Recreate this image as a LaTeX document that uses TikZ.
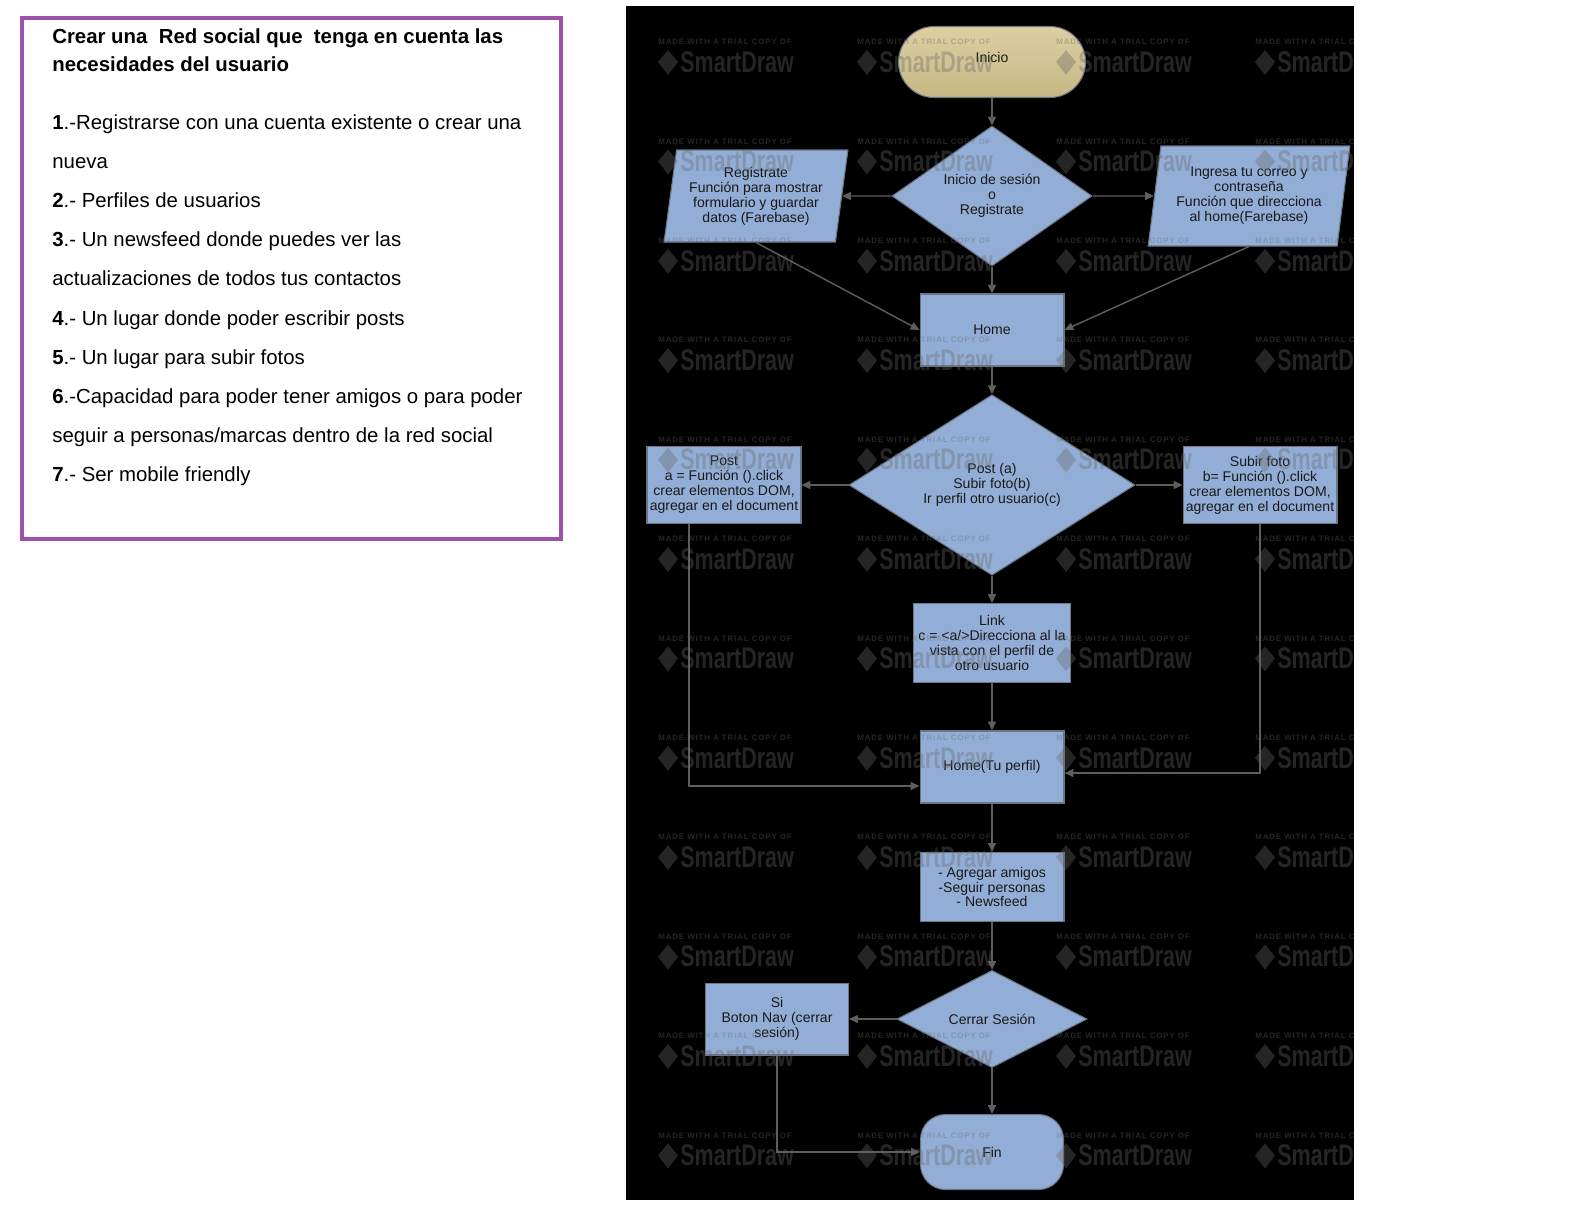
\documentclass[tikz,border=0pt]{standalone}
\usepackage{fontspec}
\setmainfont{Liberation Sans}
\newfontfamily\marcafont[FakeStretch=0.72]{Liberation Sans Bold}
\newfontfamily\avisofont[LetterSpace=11]{Liberation Sans Bold}
\usetikzlibrary{shapes.geometric,arrows.meta,positioning,calc}

\definecolor{cajaazul}{HTML}{93AED6}
\definecolor{bordegris}{HTML}{6B7686}
\definecolor{inicioclaro}{HTML}{DCCFA2}
\definecolor{iniciooscuro}{HTML}{C6B783}
\definecolor{flechagris}{HTML}{5E5E5E}
\definecolor{morado}{HTML}{9C52A8}
\definecolor{marcagris}{HTML}{686868}

\tikzset{
  caja/.style={rectangle,draw=bordegris,fill=cajaazul,line width=0.6pt,inner sep=1pt,
    align=center,font=\fontsize{8}{8.5}\selectfont,text=black!90},
  decision/.style={caja,diamond,inner sep=0pt},
  datos/.style={caja,trapezium,trapezium left angle=80,trapezium right angle=100,
    trapezium stretches=true},
  terminal/.style={caja,rounded corners=#1},
  flecha/.style={draw=flechagris,line width=0.8pt,-{Triangle[length=5pt,width=4.5pt]}},
  texto/.style={inner sep=0pt,align=left,text=black},
  marca/.style={anchor=west,inner sep=0pt,text=marcagris,opacity=.36}
}

\begin{document}
\begin{tikzpicture}[x=0.02cm,y=-0.02cm]
  \fill[white] (0,0) rectangle (1578,1208);
  \fill[black] (626,6) rectangle (1354,1200);

  % requisitos
  \draw[morado,line width=2.3pt] (22,18) rectangle (561,539);
  \node[texto,anchor=north west,font=\fontsize{11.6}{15.9}\selectfont\bfseries] (titulo) at (52,28)
    {Crear una~ Red social que~ tenga en cuenta las\\necesidades del usuario};
  \node[texto,anchor=north west,font=\fontsize{11.6}{22.3}\selectfont] (lista) at (52,114)
    {\textbf{1}.-Registrarse con una cuenta existente o crear una\\
     nueva\\
     \textbf{2}.- Perfiles de usuarios\\
     \textbf{3}.- Un newsfeed donde puedes ver las\\
     actualizaciones de todos tus contactos\\
     \textbf{4}.- Un lugar donde poder escribir posts\\
     \textbf{5}.- Un lugar para subir fotos\\
     \textbf{6}.-Capacidad para poder tener amigos o para poder\\
     seguir a personas/marcas dentro de la red social\\
     \textbf{7}.- Ser mobile friendly};

  % diagrama
  \node[terminal=0.71cm,minimum width=3.74cm,minimum height=1.42cm,
    top color=inicioclaro,bottom color=iniciooscuro] (inicio) at (992,62) {\raisebox{5pt}{Inicio}};
  \node[decision,minimum width=4cm,minimum height=1.98cm] (sesion) at (992,196)
    {Inicio de sesión\\o\\Registrate};
  \node[datos,minimum width=3.7cm,minimum height=1.84cm] (registro) at (756,196)
    {Registrate\\Función para mostrar\\formulario y guardar\\datos (Farebase)};
  \node[datos,minimum width=4.04cm,minimum height=2cm] (correo) at (1249,196)
    {Ingresa tu correo y\\contraseña\\Función que direcciona\\al home(Farebase)};
  \node[caja,minimum width=2.88cm,minimum height=1.44cm] (home) at (992,330) {Home};
  \node[decision,minimum width=5.72cm,minimum height=2.84cm] (opciones) at (992,485)
    {Post (a)\\Subir foto(b)\\Ir perfil otro usuario(c)};
  \node[caja,minimum width=3.08cm,minimum height=1.54cm] (post) at (724,485)
    {Post\\a = Función ().click\\crear elementos DOM,\\agregar en el document};
  \node[caja,minimum width=3.08cm,minimum height=1.54cm] (subir) at (1260,485)
    {Subir foto\\b= Función ().click\\crear elementos DOM,\\agregar en el document};
  \node[caja,minimum width=3.14cm,minimum height=1.58cm] (link) at (992,643)
    {Link\\c = <a/>Direcciona al la\\vista con el perfil de\\otro usuario};
  \node[caja,minimum width=2.88cm,minimum height=1.44cm] (perfil) at (992,767) {Home(Tu perfil)};
  \node[caja,minimum width=2.88cm,minimum height=1.38cm] (amigos) at (992,887)
    {- Agregar amigos\\-Seguir personas\\- Newsfeed};
  \node[decision,minimum width=3.8cm,minimum height=1.92cm] (cerrar) at (992,1019) {Cerrar Sesión};
  \node[caja,minimum width=2.86cm,minimum height=1.44cm] (si) at (777,1019)
    {Si\\Boton Nav (cerrar\\sesión)};
  \node[terminal=0.5cm,minimum width=2.86cm,minimum height=1.5cm] (fin) at (992,1152) {Fin};

  \foreach \de/\a in {inicio.south/sesion.north, sesion.west/registro.east,
      sesion.east/correo.west, sesion.south/home.north, correo.south/home.east,
      home.south/opciones.north, opciones.west/post.east, opciones.east/subir.west,
      opciones.south/link.north, link.south/perfil.north, perfil.south/amigos.north,
      amigos.south/cerrar.north, cerrar.west/si.east, cerrar.south/fin.north}
    \draw[flecha] (\de) -- (\a);
  \draw[flecha] (registro.south) -- (home.west);
  \draw[flecha] ([xshift=-0.7cm]post.south) |- ([yshift=-0.38cm]perfil.west);
  \draw[flecha] (subir.south) |- ([yshift=-0.12cm]perfil.east);
  \draw[flecha] (si.south) |- (fin.west);

  % marca de agua
  \begin{scope}
    \clip (626,6) rectangle (1354,1200);
    \foreach \cx in {658,857,1056,1255}
      \foreach \f in {0,...,11}{
        \pgfmathsetmacro\cy{42+99.4*\f}
        \node[marca,font=\avisofont\fontsize{4.5}{5}\selectfont] (aviso-\cx-\f) at (\cx,\cy)
          {MADE WITH A TRIAL COPY OF};
        \fill[marcagris,opacity=.36] (\cx+10,\cy+8) -- (\cx+20,\cy+20)
          -- (\cx+10,\cy+33) -- (\cx,\cy+20) -- cycle;
        \node[marca,font=\marcafont\fontsize{17}{18}\selectfont] (marca-\cx-\f) at (\cx+22,\cy+20)
          {SmartDraw};
      }
  \end{scope}
  \pgfresetboundingbox
  \useasboundingbox (0,0) rectangle (1578,1208);
\end{tikzpicture}
\end{document}
